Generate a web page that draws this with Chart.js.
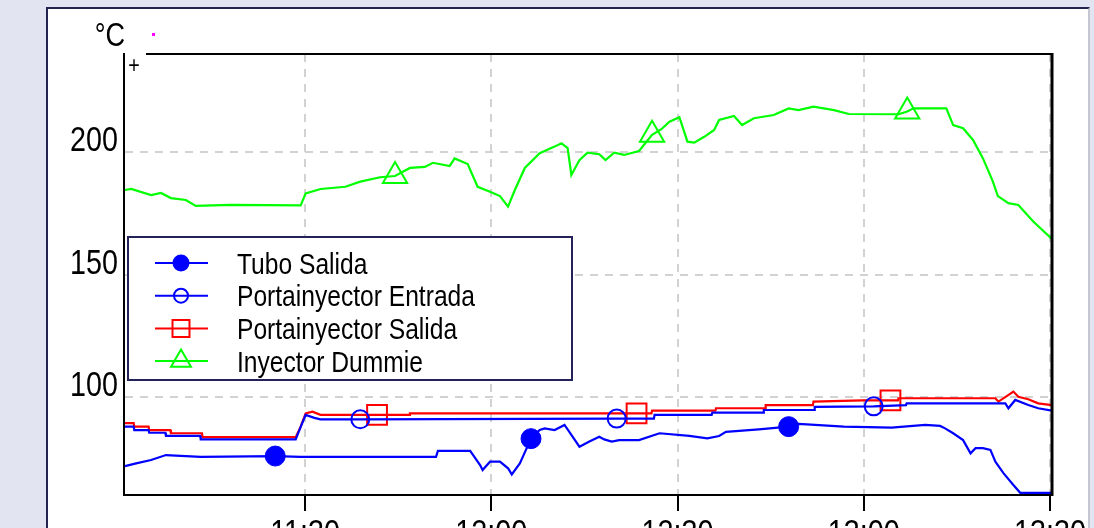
<!DOCTYPE html>
<html>
<head>
<meta charset="utf-8">
<title>Temperaturas</title>
<script src="https://cdn.jsdelivr.net/npm/chart.js@4/dist/chart.umd.min.js"></script>
<style>
  html, body { margin: 0; padding: 0; width: 1094px; height: 528px; overflow: hidden; background: #e2e4f1; }
  #panel { position: absolute; left: 46px; top: 7px; width: 1040px; height: 540px; background: #ffffff;
           border-left: 2px solid #23234f; border-top: 2px solid #23234f; border-right: 2px solid #c4c6d2; }
  #dot { position: absolute; left: 152px; top: 33px; width: 3px; height: 3px; background: #ff00ff; }
  #wrap { position: absolute; left: 0; top: 0; width: 1094px; height: 528px; }
</style>
</head>
<body>
<div id="panel"></div>
<div id="dot"></div>
<div id="wrap"><canvas id="c" width="1094" height="528"></canvas></div>
<script>
// Time axis: minutes after 11:00
const xTickMinutes = [30, 60, 90, 120, 150];
const yTickValues = [100, 150, 200];
const seriesNames = ['Tubo Salida', 'Portainyector Entrada', 'Portainyector Salida', 'Inyector Dummie'];

// Tubo Salida
const tuboT = [1.0, 2.8, 5.2, 7.6, 13.2, 25.2, 29.3, 51.1, 51.4, 56.6, 58.2, 58.6, 59.8, 61.4, 62.7, 63.3, 64.6, 66.4, 67.8, 68.6,
               70.2, 71.8, 72.9, 74.2, 75.8, 77.4, 78.2, 79.4, 80.6, 83.8, 87.1, 91.9, 94.8, 96.7, 97.8, 103.1, 107.9, 109.5, 116.8, 124.5,
               129.9, 132.3, 133.1, 134.4, 136.0, 137.2, 138.0, 139.2, 140.4, 141.2, 142.5, 144.1, 145.2, 150.3];
const tuboV = [71.8, 72.9, 74.3, 76.3, 75.6, 75.9, 75.6, 75.6, 78.0, 78.0, 72.2, 70.2, 73.6, 73.6, 70.9, 68.4, 72.9, 83.0, 86.5, 87.2,
               86.5, 88.6, 84.5, 79.7, 81.8, 83.8, 82.7, 81.8, 82.4, 82.4, 85.2, 84.1, 83.1, 84.1, 85.8, 86.8, 87.9, 89.0, 87.9, 87.5,
               88.6, 88.2, 87.2, 85.2, 82.4, 77.0, 79.1, 79.1, 78.4, 73.6, 68.9, 64.1, 60.9, 60.9];
const tuboMarks = [25.2, 66.4, 107.9];

// Portainyector Entrada
const entT = [1.0, 2.4, 2.5, 4.8, 4.9, 7.5, 7.6, 13.1, 13.2, 28.5, 29.3, 30.1, 31.5, 32.5, 38.9, 80.2, 86.2, 86.3, 95.5, 95.6,
              103.8, 103.9, 112.0, 112.1, 121.6, 126.8, 126.9, 142.8, 143.3, 144.4, 146.5, 148.1, 150.3];
const entV = [87.9, 87.9, 86.5, 86.5, 85.4, 85.4, 84.1, 84.1, 82.7, 82.7, 87.8, 92.7, 91.5, 90.9, 90.9, 91.2, 91.2, 92.7, 92.7, 93.6,
              93.6, 94.7, 94.7, 96.0, 96.2, 96.7, 97.4, 97.4, 95.4, 98.8, 96.7, 95.4, 94.4];
const entMarks = [38.9, 80.2, 121.6];

// Portainyector Salida
const salT = [1.0, 2.4, 2.5, 4.8, 4.9, 8.3, 8.4, 13.4, 13.5, 28.5, 29.3, 30.1, 31.2, 32.5, 41.6, 46.8, 46.9, 83.4, 85.8, 85.9,
              96.1, 96.2, 104.1, 104.2, 111.8, 111.9, 119.8, 124.3, 125.5, 125.6, 141.2, 141.7, 144.1, 144.9, 146.5, 148.1, 150.3];
const salV = [89.3, 89.3, 87.9, 87.9, 86.5, 86.5, 85.2, 85.2, 83.6, 83.6, 87.9, 93.3, 94.0, 92.7, 92.7, 92.7, 93.3, 93.3, 93.3, 94.4,
              94.4, 95.4, 95.4, 96.7, 96.7, 98.1, 98.6, 98.6, 98.6, 99.5, 99.5, 98.1, 102.2, 100.1, 99.1, 97.4, 96.7];
const salMarks = [41.6, 83.4, 124.3];

// Inyector Dummie
const dumT = [1.0, 2.0, 5.2, 6.8, 8.4, 10.8, 12.4, 18.0, 29.3, 30.1, 32.5, 36.5, 38.9, 42.1, 44.5, 46.9, 49.3, 50.6, 53.3, 54.1,
              56.2, 57.8, 59.8, 61.4, 62.7, 63.8, 65.4, 67.8, 70.2, 71.3, 72.3, 72.9, 74.2, 75.5, 77.4, 78.4, 79.8, 81.4, 83.8, 85.9,
              87.4, 88.7, 90.3, 91.6, 92.7, 94.3, 95.9, 96.7, 99.1, 100.4, 102.3, 105.5, 107.9, 109.5, 111.9, 115.2, 117.6, 125.6, 127.0, 128.0,
              133.3, 134.4, 136.0, 137.6, 139.2, 140.8, 141.6, 143.3, 144.9, 147.3, 150.3];
const dumV = [184.5, 184.9, 182.4, 183.3, 181.2, 180.4, 178.0, 178.4, 178.2, 183.1, 184.9, 185.8, 187.9, 189.7, 190.2, 193.5, 193.9, 195.6, 194.3, 197.4,
              195.1, 185.8, 183.8, 182.0, 177.7, 184.5, 193.5, 199.5, 202.2, 203.6, 201.6, 190.6, 196.7, 199.7, 199.1, 196.7, 199.7, 198.8, 200.4, 207.0,
              209.3, 212.4, 214.2, 204.2, 203.8, 206.2, 209.0, 213.1, 214.7, 211.0, 213.8, 215.1, 217.8, 217.1, 218.5, 217.1, 215.5, 215.4, 216.5, 217.8,
              217.8, 211.0, 209.7, 204.9, 197.4, 187.9, 182.0, 179.1, 178.4, 171.6, 164.5];
const dumMarks = [44.5, 85.9, 127.0];

const FONT = "'Liberation Sans', Arial, sans-serif";
const NARROW = 0.82;   // horizontal squeeze for the condensed lettering

function points(ts, vs) { return ts.map((t, i) => ({ x: t, y: vs[i] })); }
function markerRadius(marks, r) { return ctx => (ctx.raw && marks.includes(ctx.raw.x)) ? r : 0; }
function clock(m) {
  const total = 11 * 60 + Math.round(m);
  const h = Math.floor(total / 60), mm = total % 60;
  return h + ':' + String(mm).padStart(2, '0');
}
// condensed text: Liberation Sans squeezed horizontally
function narrowText(ctx, text, x, y, size, align) {
  ctx.save();
  ctx.translate(x, y);
  ctx.scale(NARROW, 1);
  ctx.font = size + 'px ' + FONT;
  ctx.textAlign = align;
  ctx.textBaseline = 'alphabetic';
  ctx.fillStyle = '#000';
  ctx.fillText(text, 0, 0);
  ctx.restore();
}

// legend marker sizes per series
const legendMarker = [
  { style: 'circle', r: 7.5, fill: '#0000ff' },
  { style: 'circle', r: 7, fill: 'rgba(0,0,0,0)' },
  { style: 'rect', r: 12, fill: 'rgba(0,0,0,0)' },
  { style: 'triangle', r: 11.5, fill: 'rgba(0,0,0,0)' }
];

const framePlugin = {
  id: 'frame',
  afterDatasetsDraw(chart) {
    const { ctx, chartArea: a, scales } = chart;
    ctx.save();
    // upper and right edges of the plot frame
    ctx.strokeStyle = '#000';
    ctx.lineWidth = 2;
    ctx.beginPath(); ctx.moveTo(a.left + 22, a.top); ctx.lineTo(a.right, a.top); ctx.stroke();
    ctx.lineWidth = 3;
    ctx.beginPath(); ctx.moveTo(a.right, a.top - 1); ctx.lineTo(a.right, a.bottom + 1); ctx.stroke();

    // axis labels
    yTickValues.forEach(v => narrowText(ctx, String(v), a.left - 6, scales.y.getPixelForValue(v) - 1, 35, 'right'));
    xTickMinutes.forEach(v => narrowText(ctx, clock(v), scales.x.getPixelForValue(v), a.bottom + 49, 35, 'center'));

    // unit label and corner mark
    narrowText(ctx, '°C', a.left + 1, 46, 33, 'right');
    narrowText(ctx, '+', a.left + 10, a.top + 19, 24, 'center');

    // legend box
    const bx = a.left + 4, by = 237, bw = 444, bh = 143;
    ctx.fillStyle = '#fff';
    ctx.fillRect(bx, by, bw, bh);
    ctx.strokeStyle = '#23235a';
    ctx.lineWidth = 2;
    ctx.strokeRect(bx, by, bw, bh);
    chart.data.datasets.forEach((ds, i) => {
      const y = 263 + i * 32.7;
      ctx.strokeStyle = ds.borderColor;
      ctx.lineWidth = 2;
      ctx.beginPath(); ctx.moveTo(155, y); ctx.lineTo(208, y); ctx.stroke();
      const m = legendMarker[i];
      ctx.fillStyle = m.fill;
      Chart.helpers.drawPoint(ctx, { pointStyle: m.style, radius: m.r, rotation: 0, borderWidth: 2 }, 181, y);
      narrowText(ctx, ds.label, 237, y + 10.5, 30, 'left');
    });
    ctx.restore();
  }
};

new Chart(document.getElementById('c'), {
  type: 'line',
  data: {
    datasets: [
      { label: seriesNames[0], data: points(tuboT, tuboV), borderColor: '#0000ff',
        pointStyle: 'circle', pointRadius: markerRadius(tuboMarks, 10),
        pointBackgroundColor: '#0000ff', pointBorderColor: '#0000ff', pointBorderWidth: 1 },
      { label: seriesNames[1], data: points(entT, entV), borderColor: '#0000ff',
        pointStyle: 'circle', pointRadius: markerRadius(entMarks, 9),
        pointBackgroundColor: 'rgba(0,0,0,0)', pointBorderColor: '#0000ff', pointBorderWidth: 2 },
      { label: seriesNames[2], data: points(salT, salV), borderColor: '#ff0000',
        pointStyle: 'rect', pointRadius: markerRadius(salMarks, 14),
        pointBackgroundColor: 'rgba(0,0,0,0)', pointBorderColor: '#ff0000', pointBorderWidth: 2 },
      { label: seriesNames[3], data: points(dumT, dumV), borderColor: '#00ff00',
        pointStyle: 'triangle', pointRadius: markerRadius(dumMarks, 14),
        pointBackgroundColor: 'rgba(0,0,0,0)', pointBorderColor: '#00ff00', pointBorderWidth: 2 }
    ]
  },
  options: {
    responsive: false,
    animation: false,
    events: [],
    layout: { padding: { left: 64, top: 54, right: 42, bottom: 0 } },
    elements: {
      line: { borderWidth: 2.2, tension: 0, fill: false },
      point: { hoverRadius: 0 }
    },
    plugins: { legend: { display: false }, tooltip: { enabled: false } },
    scales: {
      x: {
        type: 'linear',
        min: 0.84,
        max: 150.32,
        afterBuildTicks: s => { s.ticks = xTickMinutes.map(v => ({ value: v })); },
        afterFit: s => { s.height = 33; },
        ticks: { display: false, callback: v => clock(v) },
        grid: { color: '#d2d2d2', lineWidth: 2, drawTicks: true, tickLength: 16, tickColor: '#000', tickWidth: 2, tickBorderDash: [] },
        border: { display: true, color: '#000', width: 2, dash: [8, 7] }
      },
      y: {
        min: 60,
        max: 240,
        afterBuildTicks: s => { s.ticks = yTickValues.map(v => ({ value: v })); },
        afterFit: s => { s.width = 60; },
        ticks: { display: false },
        grid: { color: '#d2d2d2', lineWidth: 2, drawTicks: false },
        border: { display: true, color: '#000', width: 2, dash: [8, 7] }
      }
    }
  },
  plugins: [framePlugin]
});
</script>
</body>
</html>
